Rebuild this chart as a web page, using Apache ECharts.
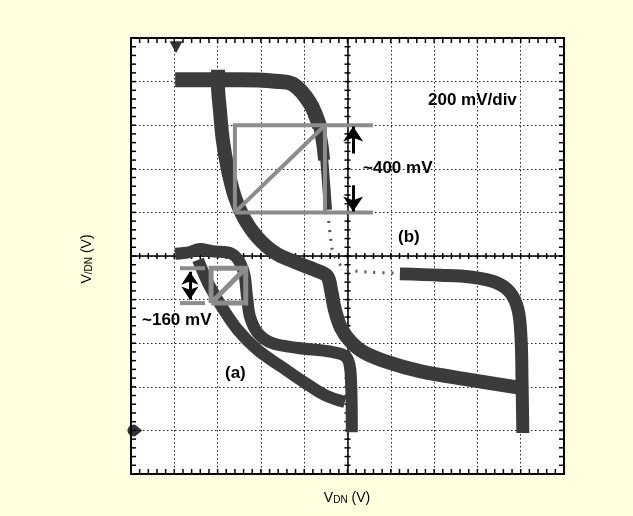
<!DOCTYPE html>
<html>
<head>
<meta charset="utf-8">
<script src="https://cdn.jsdelivr.net/npm/echarts@6/dist/echarts.min.js"></script>
<style>
  html, body { margin: 0; padding: 0; background: #ffffe0; }
  #chart { width: 633px; height: 516px; }
</style>
</head>
<body>
<div id="chart"></div>
<script>
// all values in screen divisions (200 mV/div), origin at the screen centre

// curve (b): first transfer curve, top branch then right branch
const curveB1Top = [
  [-3.98, 4.04], [-2.48, 4.04], [-1.67, 4.01], [-1.26, 3.94],
  [-0.87, 3.51], [-0.64, 2.96]
];
const curveB1Mid = [[-0.66, 3.02], [-0.58, 2.55], [-0.54, 2.20]];
const curveB1Drop = [[-0.54, 2.25], [-0.50, 1.74], [-0.45, 1.06]];
const curveB1Sparse = [
  [-0.45, 1.01], [-0.40, 0.48], [-0.31, 0.02], [-0.06, -0.28],
  [0.52, -0.37], [1.21, -0.39]
];
const curveB1Right = [
  [1.21, -0.41], [2.14, -0.44], [2.83, -0.48], [3.41, -0.60],
  [3.75, -0.83], [3.94, -1.24], [4.01, -1.93], [4.03, -2.84], [4.05, -4.06]
];
// curve (b): second (mirrored) transfer curve
const curveB2 = [
  [-2.99, 4.27], [-2.99, 3.92], [-2.94, 3.28], [-2.88, 2.66], [-2.76, 1.97],
  [-2.60, 1.35], [-2.39, 0.87], [-2.09, 0.44], [-1.67, 0.07], [-1.21, -0.14],
  [-0.75, -0.32], [-0.47, -0.46], [-0.38, -0.78], [-0.29, -1.24], [-0.15, -1.65],
  [0.06, -1.95], [0.36, -2.20], [0.91, -2.43], [1.67, -2.64], [2.83, -2.84],
  [4.03, -3.03]
];
// curve (a)
const curveA1 = [
  [-3.98, 0.05], [-3.64, 0.09], [-3.41, 0.16], [-3.13, 0.11], [-2.67, 0.05],
  [-2.41, -0.32], [-2.32, -0.94], [-2.25, -1.40], [-2.07, -1.77], [-1.74, -2.00],
  [-1.14, -2.11], [-0.36, -2.20], [-0.01, -2.34], [0.08, -2.84], [0.10, -4.04]
];
const curveA2 = [
  [-3.45, -0.09], [-3.22, -0.62], [-2.90, -1.17], [-2.53, -1.70], [-2.07, -2.16],
  [-1.51, -2.55], [-0.98, -2.91], [-0.52, -3.19], [-0.06, -3.35]
];

// noise-margin boxes
const boxB = [[-2.60, 1.0], [-0.52, 1.0], [-0.52, 3.0], [-2.60, 3.0], [-2.60, 1.0]];
const boxBDiag = [[-2.60, 1.0], [-0.52, 3.0]];
const boxBTopBar = [[-0.52, 3.0], [0.59, 3.0]];
const boxBBottomBar = [[-0.52, 1.0], [0.59, 1.0]];
const arrowBUp = [[0.13, 2.35], [0.13, 2.97]];
const arrowBDown = [[0.13, 1.62], [0.13, 1.02]];

const boxA = [[-3.15, -1.08], [-2.35, -1.08], [-2.35, -0.28], [-3.15, -0.28], [-3.15, -1.08]];
const boxADiag = [[-3.15, -1.08], [-2.35, -0.28]];
const boxATopBar = [[-3.87, -0.28], [-3.29, -0.28]];
const boxABottomBar = [[-3.87, -1.08], [-3.29, -1.08]];
const arrowA = [[-3.64, -0.36], [-3.64, -1.00]];

// scope markers
const triggerMark = [[-3.96, 4.79]];
const groundMark = [[-4.91, -4.0]];

// graticule: 5 minor ticks per division
const minorTicks = [];
for (let i = -24; i <= 24; i++) minorTicks.push(i / 5);

const band = '#3b3b3b';
const boxGray = '#8c8c8c';
const font = '"Liberation Sans", Arial, sans-serif';

function plainAxis(pos, split, onZero) {
  return {
    type: 'value', min: -5, max: 5, interval: 1, position: pos,
    axisLine: {
      show: true, onZero: onZero, onZeroAxisIndex: 0,
      lineStyle: { color: '#000', width: onZero ? 1.5 : 2 }
    },
    axisTick: { show: false },
    minorTick: { show: false },
    axisLabel: { show: false },
    splitLine: { show: split, lineStyle: { color: '#222', width: 1, type: [1.5, 2.5] } }
  };
}

function bandLine(data, width) {
  return {
    type: 'line', data: data, smooth: 0.35, symbol: 'none', silent: true, z: 2,
    lineStyle: { color: band, width: width, cap: 'butt', join: 'round' }
  };
}
function boxLine(data, width) {
  return {
    type: 'line', data: data, smooth: false, symbol: 'none', silent: true, z: 3,
    lineStyle: { color: boxGray, width: width, join: 'miter' }
  };
}
function arrow(data, both, size) {
  return {
    type: 'lines', coordinateSystem: 'cartesian2d', silent: true, z: 4,
    symbol: both ? ['arrow', 'arrow'] : ['none', 'arrow'], symbolSize: size,
    lineStyle: { color: '#000', width: 3, opacity: 1 },
    data: [{ coords: data }]
  };
}
// tick marks as thin rect symbols sitting on the border / centre lines
function tickRow(data, size, offset) {
  return {
    type: 'scatter', data: data, symbol: 'rect', symbolSize: size, symbolOffset: offset,
    itemStyle: { color: '#000', opacity: 1 }, clip: false, silent: true, z: 1
  };
}

const chart = echarts.init(document.getElementById('chart'));
chart.setOption({
  animation: false,
  backgroundColor: '#ffffe0',
  grid: {
    left: 131, top: 38, width: 433, height: 436,
    show: true, backgroundColor: '#fff', borderWidth: 0,
    outerBoundsMode: 'none'
  },
  xAxis: [plainAxis('bottom', true, false), plainAxis('top', false, false), plainAxis('bottom', false, true)],
  yAxis: [plainAxis('left', true, false), plainAxis('right', false, false), plainAxis('left', false, true)],
  series: [
    tickRow(minorTicks.map(v => [v, -5]), [1.5, 5], [0, -2.5]),
    tickRow(minorTicks.map(v => [v, 5]), [1.5, 5], [0, 2.5]),
    tickRow(minorTicks.map(v => [v, 0]), [1.5, 6], [0, 0]),
    tickRow(minorTicks.map(v => [-5, v]), [5, 1.5], [2.5, 0]),
    tickRow(minorTicks.map(v => [5, v]), [5, 1.5], [-2.5, 0]),
    tickRow(minorTicks.map(v => [0, v]), [6, 1.5], [0, 0]),
    bandLine(curveB1Top, 15),
    bandLine(curveB1Mid, 12),
    bandLine(curveB1Drop, 8),
    {
      type: 'line', data: curveB1Sparse, smooth: 0.35, symbol: 'none', silent: true, z: 2,
      lineStyle: { color: '#555', width: 3, type: [2, 7] }
    },
    bandLine(curveB1Right, 13),
    bandLine(curveB2, 14),
    bandLine(curveA1, 12),
    bandLine(curveA2, 12),
    boxLine(boxB, 4), boxLine(boxBDiag, 4), boxLine(boxBTopBar, 4), boxLine(boxBBottomBar, 4),
    boxLine(boxA, 5), boxLine(boxADiag, 5), boxLine(boxATopBar, 4), boxLine(boxABottomBar, 4),
    arrow(arrowBUp, false, 15), arrow(arrowBDown, false, 15), arrow(arrowA, true, 13),
    {
      type: 'scatter', data: triggerMark, symbol: 'triangle', symbolRotate: 180,
      symbolSize: [13, 12], itemStyle: { color: '#000' }, clip: false, silent: true, z: 5
    },
    {
      type: 'scatter', data: groundMark, symbol: 'path://M7,0 A6,6 0 1 0 7,12 L13,6 Z',
      symbolSize: [15, 12], itemStyle: { color: '#000' }, clip: false, silent: true, z: 5
    }
  ],
  graphic: [
    { type: 'text', left: 428, top: 92, style: { text: '200 mV/div', font: 'bold 17px ' + font, fill: '#000' } },
    { type: 'text', left: 363, top: 160, style: { text: '~400 mV', font: 'bold 17px ' + font, fill: '#000' } },
    { type: 'text', left: 398, top: 229, style: { text: '(b)', font: 'bold 17px ' + font, fill: '#000' } },
    { type: 'text', left: 142, top: 312, style: { text: '~160 mV', font: 'bold 17px ' + font, fill: '#000' } },
    { type: 'text', left: 225, top: 365, style: { text: '(a)', font: 'bold 17px ' + font, fill: '#000' } },
    {
      type: 'text', x: 347, y: 497,
      style: {
        text: '{m|V}{s|DN}{m| (V)}', align: 'center', verticalAlign: 'middle',
        rich: {
          m: { fontFamily: font, fontSize: 14, lineHeight: 16, verticalAlign: 'bottom', fill: '#000' },
          s: { fontFamily: font, fontSize: 10, lineHeight: 12, verticalAlign: 'bottom', fill: '#000' }
        }
      }
    },
    {
      type: 'text', x: 86, y: 259, rotation: Math.PI / 2,
      style: {
        text: '{m|V}{s|/DN}{m| (V)}', align: 'center', verticalAlign: 'middle',
        rich: {
          m: { fontFamily: font, fontSize: 14, lineHeight: 16, verticalAlign: 'bottom', fill: '#000' },
          s: { fontFamily: font, fontSize: 10, lineHeight: 12, verticalAlign: 'bottom', fill: '#000' }
        }
      }
    }
  ]
});
</script>
</body>
</html>
